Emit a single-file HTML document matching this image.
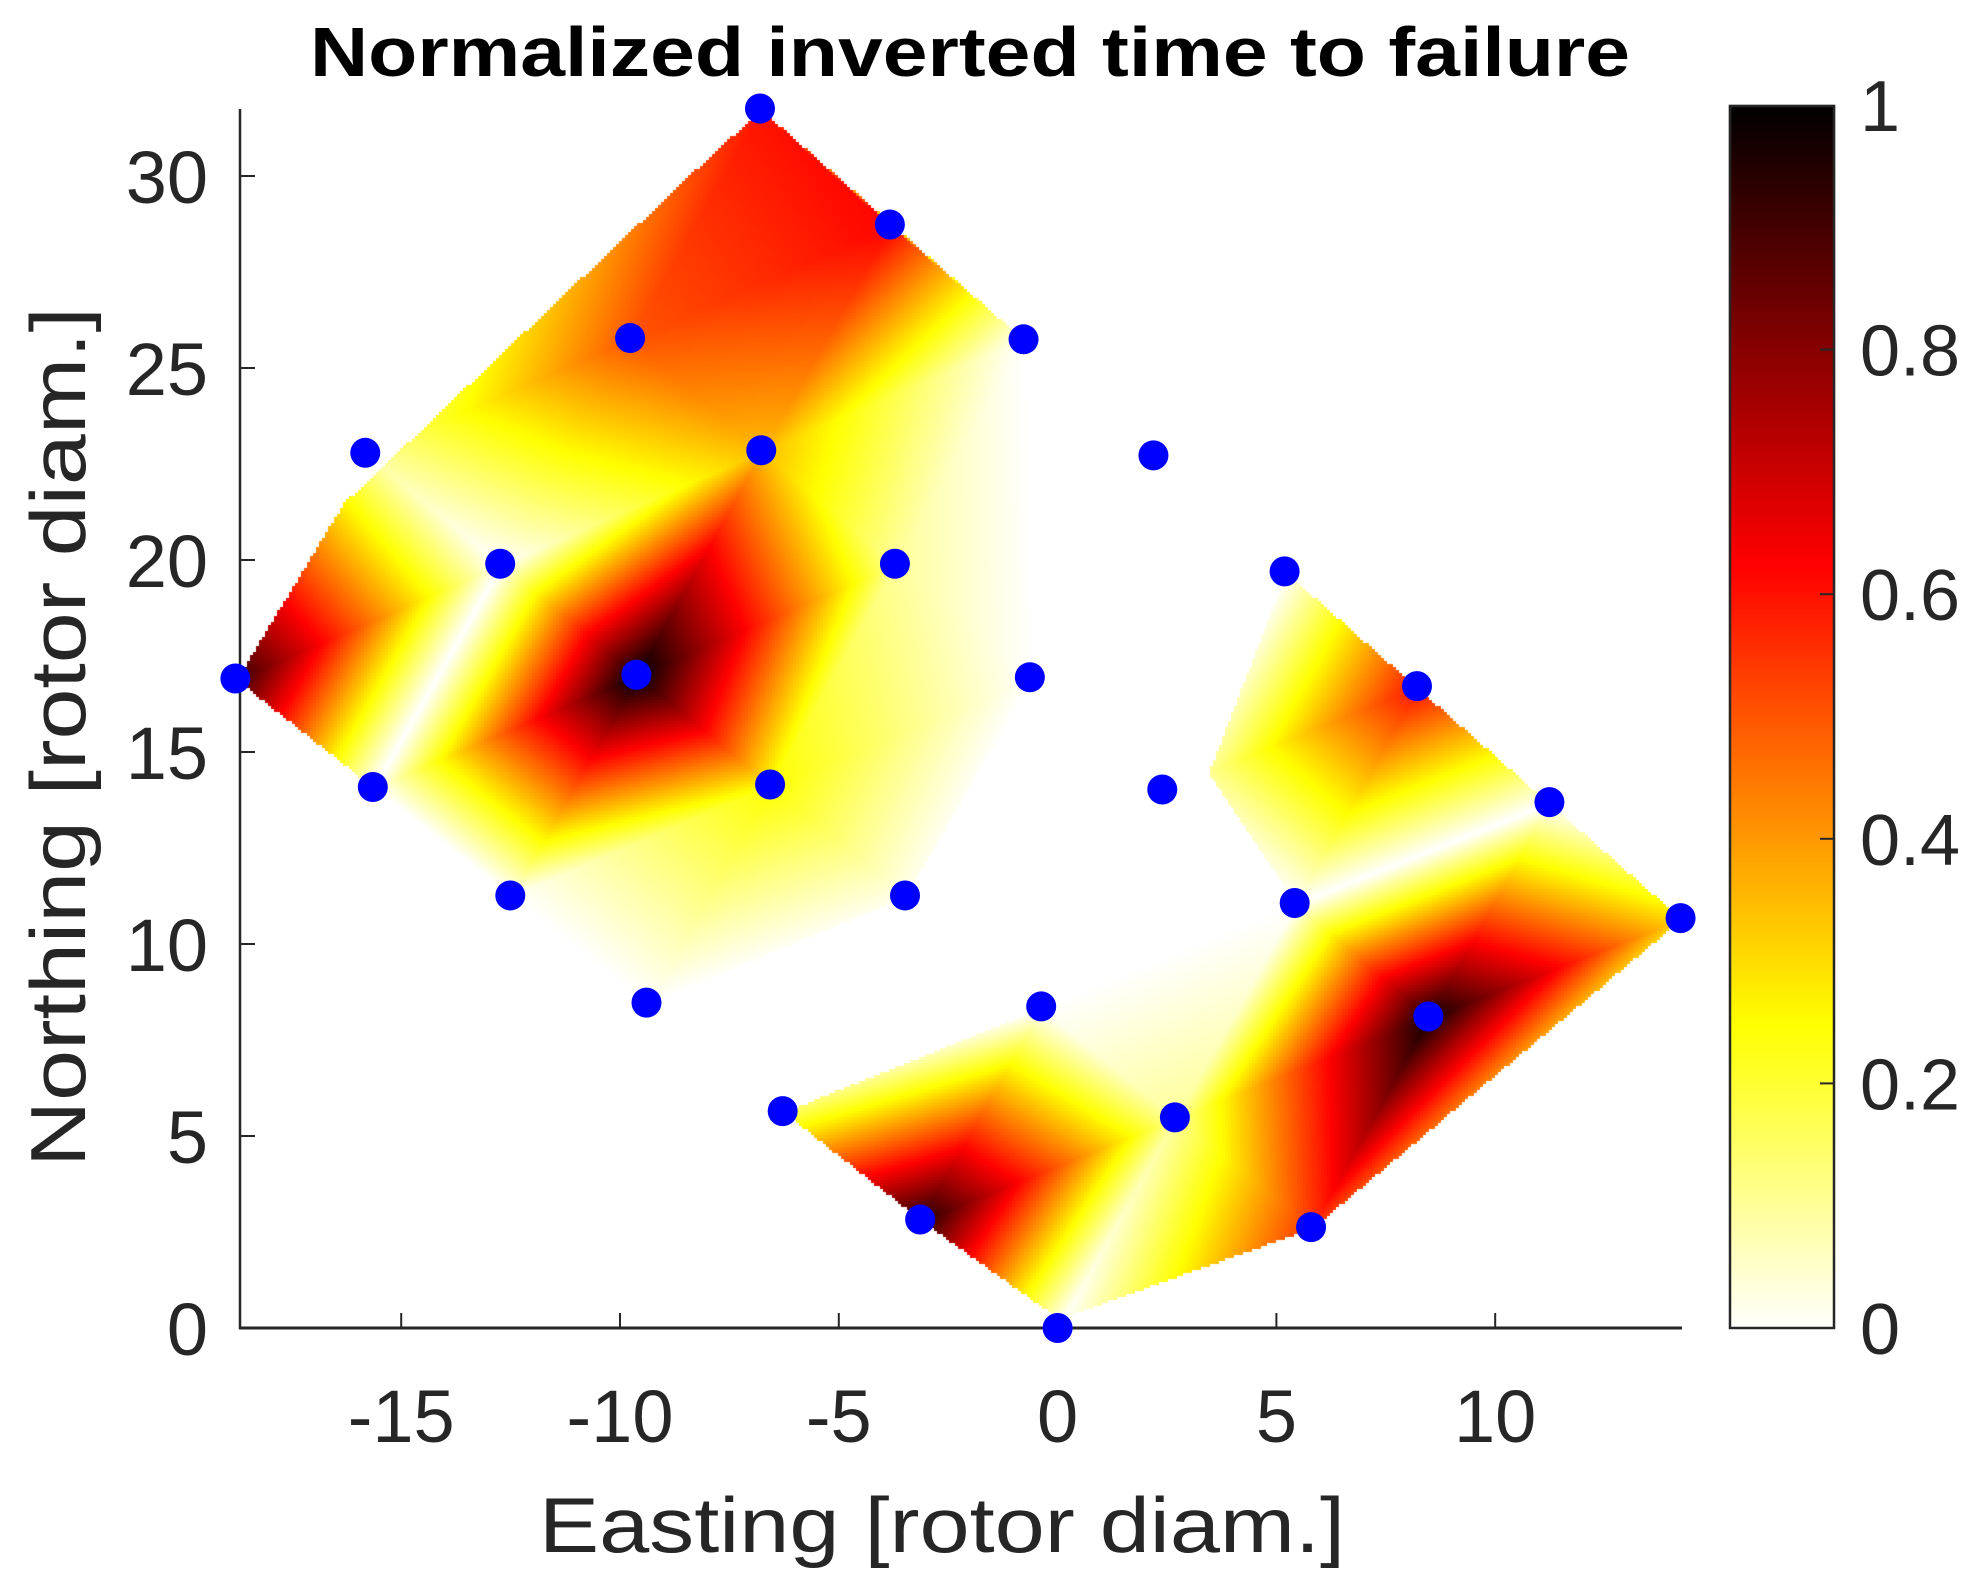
<!DOCTYPE html>
<html><head><meta charset="utf-8"><style>
html,body{margin:0;padding:0;background:#fff;}
#wrap{position:relative;width:1975px;height:1594px;overflow:hidden;}
canvas,svg{position:absolute;left:0;top:0;}
</style></head><body><div id="wrap">
<canvas id="c" width="1975" height="1594"></canvas>
<svg id="s" width="1975" height="1594" xmlns="http://www.w3.org/2000/svg" font-family="Liberation Sans, Arial, sans-serif"></svg>
</div>
<script>
var X0=1057.6,SX=43.76,Y0=1328,SY=38.4;
function px(x){return X0+x*SX;} function py(y){return Y0-y*SY;}
function dx(d){return (d-839)/34.7;} function dy(d){return (1053-d)/30.45;}
var P={
1:[603,86,0.6],2:[706,178,0.62],3:[500,268,0.5],4:[812,269,0],5:[290,359,0.1],6:[604,357,0.35],
7:[915,361,0],8:[397,447,0],9:[710,447,0.1],10:[1019,453,0],11:[187,538,0.92],12:[505,535,1.0],
13:[817,537,0],14:[1124,544,0.6],15:[296,624,0],16:[611,622,0.25],17:[922,626,0],18:[1229,636,0],
19:[405,710,0],20:[718,710,0.02],21:[1027,716,0],22:[1333,728,0.3],23:[513,795,0],24:[826,798,0],
25:[1133,806,0.97],26:[621,881,0.15],27:[932,886,0.1],28:[730,967,0.95],29:[1040,973,0.55],30:[839,1053,0]};
function pts(ids){return ids.map(function(i){var p=P[i];return {x:dx(p[0]),y:dy(p[1]),v:p[2]};});}
var L=pts([1,2,3,4,5,6,8,9,11,12,13,15,16,19,20,23]);
var R=pts([10,14,17,18,21,22,24,25,26,27,28,29,30]);
function poly(a){return a.map(function(p){return [dx(p[0]),dy(p[1])];});}
var CL=poly([[187,538],[272,398],[560,125],[603,86],[812,269],[817,537],[718,710],[513,795],[296,624]]);
var CR=poly([[1019,453],[1333,728],[1040,973],[839,1045],[730,967],[621,881],[826,798],[1027,716],[958,612]]);
function pip(P,x,y){var ins=false;for(var i=0,j=P.length-1;i<P.length;j=i++){var xi=P[i][0],yi=P[i][1],xj=P[j][0],yj=P[j][1];
 if(((yi>y)!==(yj>y))&&(x<(xj-xi)*(y-yi)/(yj-yi)+xi))ins=!ins;}return ins;}
function delaunay(p){
 var n=p.length,minx=1e9,miny=1e9,maxx=-1e9,maxy=-1e9;
 p.forEach(function(q){minx=Math.min(minx,q.x);miny=Math.min(miny,q.y);maxx=Math.max(maxx,q.x);maxy=Math.max(maxy,q.y);});
 var d=Math.max(maxx-minx,maxy-miny)*20,mx=(minx+maxx)/2,my=(miny+maxy)/2;
 var all=p.concat([{x:mx-d,y:my-d},{x:mx+d,y:my-d},{x:mx,y:my+d}]);
 var tris=[[n,n+1,n+2]];
 function cc(t){var a=all[t[0]],b=all[t[1]],c=all[t[2]];
  var D=2*(a.x*(b.y-c.y)+b.x*(c.y-a.y)+c.x*(a.y-b.y));
  var ux=((a.x*a.x+a.y*a.y)*(b.y-c.y)+(b.x*b.x+b.y*b.y)*(c.y-a.y)+(c.x*c.x+c.y*c.y)*(a.y-b.y))/D;
  var uy=((a.x*a.x+a.y*a.y)*(c.x-b.x)+(b.x*b.x+b.y*b.y)*(a.x-c.x)+(c.x*c.x+c.y*c.y)*(b.x-a.x))/D;
  return [ux,uy,(a.x-ux)*(a.x-ux)+(a.y-uy)*(a.y-uy)];}
 for(var i=0;i<n;i++){var q=all[i],bad=[],keep=[];
  tris.forEach(function(t){var c=cc(t);if((q.x-c[0])*(q.x-c[0])+(q.y-c[1])*(q.y-c[1])<c[2]-1e-9)bad.push(t);else keep.push(t);});
  var edges=[];bad.forEach(function(t){[[t[0],t[1]],[t[1],t[2]],[t[2],t[0]]].forEach(function(e){edges.push(e);});});
  var pl=edges.filter(function(e,k){return !edges.some(function(f,j){return j!==k&&((f[0]===e[0]&&f[1]===e[1])||(f[0]===e[1]&&f[1]===e[0]));});});
  pl.forEach(function(e){keep.push([e[0],e[1],i]);});tris=keep;}
 return tris.filter(function(t){return t[0]<n&&t[1]<n&&t[2]<n;}).map(function(t){return [p[t[0]],p[t[1]],p[t[2]]];});
}
var TL=delaunay(L),TR=delaunay(R);
function interp(T,x,y){for(var i=0;i<T.length;i++){var a=T[i][0],b=T[i][1],c=T[i][2];
 var den=(b.y-c.y)*(a.x-c.x)+(c.x-b.x)*(a.y-c.y);
 var l1=((b.y-c.y)*(x-c.x)+(c.x-b.x)*(y-c.y))/den,l2=((c.y-a.y)*(x-c.x)+(a.x-c.x)*(y-c.y))/den,l3=1-l1-l2;
 if(l1>=-1e-6&&l2>=-1e-6&&l3>=-1e-6)return l1*a.v+l2*b.v+l3*c.v;}return null;}
function col(v){var t=1-v;var r=Math.min(1,t/0.375),g=Math.max(0,Math.min(1,(t-0.375)/0.375)),b=Math.max(0,Math.min(1,(t-0.75)/0.25));
 return [Math.round(r*255),Math.round(g*255),Math.round(b*255)];}
var cv=document.getElementById('c'),ctx=cv.getContext('2d');
ctx.fillStyle='#fff';ctx.fillRect(0,0,1975,1594);
var img=ctx.getImageData(0,0,1975,1594),D=img.data,st=3;
for(var Y=100;Y<1330;Y+=st){for(var Xp=235;Xp<1700;Xp+=st){
 var x=(Xp-X0)/SX,y=(Y0-Y)/SY,v=null;
 if(pip(CL,x,y))v=interp(TL,x,y);
 if(v===null&&pip(CR,x,y))v=interp(TR,x,y);
 if(v===null)continue;
 var c=col(v);for(var a=0;a<st;a++)for(var b=0;b<st;b++){var k=((Y+a)*1975+Xp+b)*4;D[k]=c[0];D[k+1]=c[1];D[k+2]=c[2];D[k+3]=255;}}}
for(var Y=105;Y<1328;Y++){var v=(1328-Y)/(1328-105);var c=col(v);for(var Xp=1729;Xp<1835;Xp++){var k=(Y*1975+Xp)*4;D[k]=c[0];D[k+1]=c[1];D[k+2]=c[2];}}
ctx.putImageData(img,0,0);
var s='';
s+='<line x1="240" y1="109" x2="240" y2="1329" stroke="#262626" stroke-width="2.5"/>';
s+='<line x1="239" y1="1328" x2="1682" y2="1328" stroke="#262626" stroke-width="3"/>';
[-15,-10,-5,0,5,10].forEach(function(v){var x=px(v);s+='<line x1="'+x+'" y1="1328" x2="'+x+'" y2="1313" stroke="#262626" stroke-width="2"/>';
 s+='<text x="'+x+'" y="1442" font-size="74" fill="#262626" text-anchor="middle">'+(v<0?'-'+(-v):v)+'</text>';});
[0,5,10,15,20,25,30].forEach(function(v){var y=py(v);s+='<line x1="240" y1="'+y+'" x2="255" y2="'+y+'" stroke="#262626" stroke-width="2"/>';
 s+='<text x="208" y="'+(y+27)+'" font-size="74" fill="#262626" text-anchor="end">'+v+'</text>';});
for(var i=1;i<=30;i++){var p=P[i];s+='<ellipse cx="'+px(dx(p[0]))+'" cy="'+py(dy(p[1]))+'" rx="15" ry="15" fill="#0000ff"/>';}
s+='<rect x="1730" y="106" width="104" height="1222" fill="none" stroke="#262626" stroke-width="2.5"/>';
[0,0.2,0.4,0.6,0.8,1].forEach(function(v){var y=1328-v*(1328-105);
 if(v>0&&v<1)s+='<line x1="1834" y1="'+y+'" x2="1820" y2="'+y+'" stroke="#262626" stroke-width="2"/>';
 s+='<text x="1860" y="'+(y+26)+'" font-size="72" fill="#262626">'+v+'</text>';});
s+='<text x="970" y="76" font-size="70" font-weight="bold" fill="#000" text-anchor="middle" textLength="1320" lengthAdjust="spacingAndGlyphs">Normalized inverted time to failure</text>';
s+='<text x="942" y="1552" font-size="78" fill="#262626" text-anchor="middle" textLength="806" lengthAdjust="spacingAndGlyphs">Easting [rotor diam.]</text>';
s+='<text transform="translate(85,737) rotate(-90)" x="0" y="0" font-size="78" fill="#262626" text-anchor="middle" textLength="860" lengthAdjust="spacingAndGlyphs">Northing [rotor diam.]</text>';
document.getElementById('s').innerHTML=s;
</script></body></html>
